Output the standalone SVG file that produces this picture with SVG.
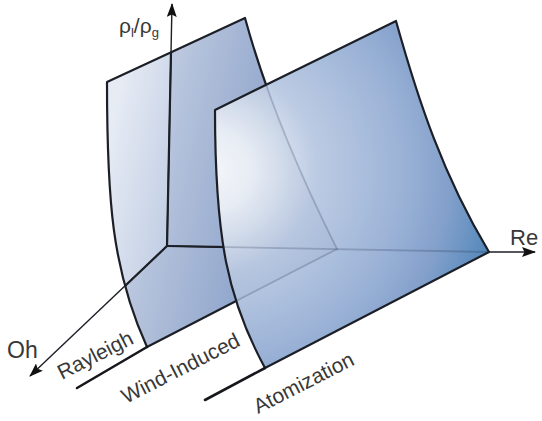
<svg xmlns="http://www.w3.org/2000/svg" width="542" height="421" viewBox="0 0 542 421">
  <style>
    .edge { fill: none; stroke: #1c1f26; stroke-width: 2.2; stroke-linejoin: round; }
    .axis { fill: none; stroke: #1c1f26; stroke-width: 1.4; }
    .lead { fill: none; stroke: #15171c; stroke-width: 2.6; stroke-linecap: round; }
    .lbl { font-family: "Liberation Sans", Arial, sans-serif; fill: #383838; }
    .faint { fill: none; stroke: #1c2a44; stroke-width: 1.8; stroke-opacity: 0.22; }
  </style>
  <defs>
    <marker id="ah" viewBox="0 0 14 10" refX="13" refY="5" markerWidth="14" markerHeight="10" markerUnits="userSpaceOnUse" orient="auto">
      <path d="M0,0 L14,5 L0,10 L2.5,5 Z" fill="#111"/>
    </marker>
    <linearGradient id="gBack" gradientUnits="userSpaceOnUse" x1="107" y1="150" x2="340" y2="200">
      <stop offset="0" stop-color="#e6ebf4"/>
      <stop offset="0.35" stop-color="#bfcce3"/>
      <stop offset="1" stop-color="#7d99c7"/>
    </linearGradient>
    <radialGradient id="gFront" gradientUnits="userSpaceOnUse" cx="212" cy="170" r="290">
      <stop offset="0" stop-color="#fbfcfd"/>
      <stop offset="0.14" stop-color="#eff3f9"/>
      <stop offset="0.36" stop-color="#bccbe3"/>
      <stop offset="0.65" stop-color="#9cb3d7"/>
      <stop offset="0.82" stop-color="#83a0cb"/>
      <stop offset="1" stop-color="#5187ba"/>
    </radialGradient>
    <clipPath id="frontClip">
      <path d="M215,110 L396,21 C418.4,101 442.8,175 489,252 L265,368 C228,300 215,240 215,110 Z"/>
    </clipPath>
  </defs>

  <g id="back-sheet">
    <path d="M107,82 L245,18 C266,95 298.5,172 337,249 L147,347 C112,270 107,200 107,82 Z" fill="url(#gBack)"/>
    <path d="M171,52 L245,18 C266,95 298.5,172 337,249 L147,347 L125,286 L167,246 Z" fill="#34568f" fill-opacity="0.13"/>
  </g>

  <g id="axes">
    <line class="axis" x1="167" y1="246" x2="489" y2="252"/>
    <line class="axis" x1="167" y1="246" x2="172" y2="4" marker-end="url(#ah)"/>
    <line class="axis" x1="167" y1="246" x2="30" y2="376" marker-end="url(#ah)"/>
    <line class="edge" x1="167" y1="246" x2="171" y2="52"/>
    <line class="edge" x1="167" y1="246" x2="125" y2="286"/>
    <line class="edge" x1="167" y1="246" x2="230" y2="247.2"/>
  </g>

  <g id="back-outline">
    <path class="edge" d="M107,82 L245,18 C266,95 298.5,172 337,249 L147,347 C112,270 107,200 107,82 Z"/>
    <line class="lead" x1="77" y1="388" x2="147" y2="347"/>
  </g>

  <g id="front-sheet">
    <path d="M215,110 L396,21 C418.4,101 442.8,175 489,252 L265,368 C228,300 215,240 215,110 Z" fill="url(#gFront)"/>
    <g clip-path="url(#frontClip)">
      <path d="M107,82 L245,18 C266,95 298.5,172 337,249 L147,347 C112,270 107,200 107,82 Z" fill="#2a4a80" fill-opacity="0.04"/>
      <path class="faint" d="M245,18 C266,95 298.5,172 337,249 L147,347"/>
      <line class="faint" x1="167" y1="246" x2="489" y2="252"/>
    </g>
    <path class="edge" d="M215,110 L396,21 C418.4,101 442.8,175 489,252 L265,368 C228,300 215,240 215,110 Z"/>
    <line class="lead" x1="205" y1="400" x2="265" y2="368"/>
  </g>

  <g id="re-axis-tip">
    <line class="axis" x1="489" y1="252" x2="535" y2="252" marker-end="url(#ah)"/>
  </g>

  <g id="labels">
    <text class="lbl" x="119" y="33" font-size="21">ρ<tspan font-size="13" dy="4">l</tspan><tspan dy="-4">/ρ</tspan><tspan font-size="13" dy="4">g</tspan></text>
    <text class="lbl" x="510" y="245" font-size="22">Re</text>
    <text class="lbl" x="7" y="358" font-size="23">Oh</text>
    <text class="lbl" font-size="21" transform="translate(62,380) rotate(-27)">Rayleigh</text>
    <text class="lbl" font-size="21" transform="translate(126,404) rotate(-27)">Wind-Induced</text>
    <text class="lbl" font-size="21" transform="translate(258,414) rotate(-27)">Atomization</text>
  </g>
</svg>
